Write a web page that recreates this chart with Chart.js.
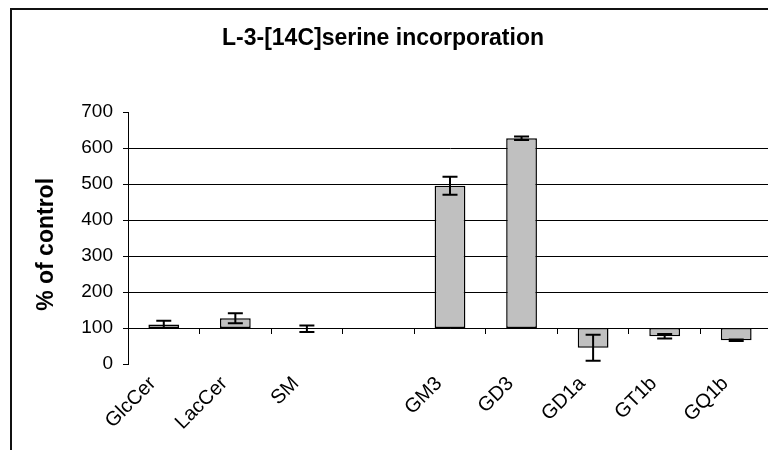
<!DOCTYPE html>
<html>
<head>
<meta charset="utf-8">
<script src="https://cdn.jsdelivr.net/npm/chart.js@4/dist/chart.umd.min.js"></script>
<style>
  html, body { margin: 0; padding: 0; background: #fff; overflow: hidden; width: 768px; height: 450px; }
  #frame { position: absolute; left: 10px; top: 8px; width: 800px; height: 500px; border-top: 2px solid #111; border-left: 2px solid #111; }
  #wrap { position: absolute; left: -6px; top: 0; width: 778px; height: 450px; }
</style>
</head>
<body>
<div id="frame"></div>
<div id="wrap"><canvas id="c" width="778" height="450"></canvas></div>
<script>
const categories = ['GlcCer', 'LacCer', 'SM', '', 'GM3', 'GD3', 'GD1a', 'GT1b', 'GQ1b'];
const values = [110, 127, 98, null, 495, 627, 45, 77, 66];
const errors = [10, 14, 9, null, 25, 5, 36, 6, 2];
const baseline = 100;
const yMin = 0, yMax = 700, yStep = 100;
const chartTitle = 'L-3-[14C]serine incorporation';
const yTitle = '% of control';

const barData = values.map(v => v == null ? null : [baseline, v]);

const errorBars = {
  id: 'errorBars',
  afterDatasetsDraw(chart) {
    const meta = chart.getDatasetMeta(0);
    const y = chart.scales.y;
    const ctx = chart.ctx;
    ctx.save();
    ctx.strokeStyle = '#000';
    ctx.lineWidth = 2;
    values.forEach((v, i) => {
      if (v == null || errors[i] == null) return;
      const el = meta.data[i];
      if (!el) return;
      const x = el.x;
      const yt = y.getPixelForValue(v + errors[i]);
      const yb = y.getPixelForValue(v - errors[i]);
      const hw = 7.5;
      ctx.beginPath();
      ctx.moveTo(x, yt); ctx.lineTo(x, yb);
      ctx.moveTo(x - hw, yt); ctx.lineTo(x + hw, yt);
      ctx.moveTo(x - hw, yb); ctx.lineTo(x + hw, yb);
      ctx.stroke();
    });
    ctx.restore();
  }
};

new Chart(document.getElementById('c'), {
  type: 'bar',
  data: {
    labels: categories,
    datasets: [{
      data: barData,
      backgroundColor: '#C0C0C0',
      borderColor: '#000',
      borderWidth: 1.5,
      borderSkipped: false,
      categoryPercentage: 1,
      barPercentage: 0.43
    }]
  },
  options: {
    responsive: false,
    devicePixelRatio: 1,
    animation: false,
    layout: { padding: 0 },
    plugins: {
      legend: { display: false },
      tooltip: { enabled: false },
      title: {
        display: true,
        text: chartTitle,
        color: '#000',
        font: { family: "'Liberation Sans', Arial, sans-serif", size: 23, weight: 'bold' },
        padding: { top: 25, bottom: 59.4 }
      }
    },
    scales: {
      x: {
        type: 'category',
        position: 'bottom',
        offset: true,
        grid: { display: false },
        border: { display: false },
        ticks: {
          color: '#000',
          font: { family: "'Liberation Sans', Arial, sans-serif", size: 20 },
          minRotation: 45,
          maxRotation: 45,
          autoSkip: false,
          padding: 0,
          labelOffset: -11
        },
        afterFit(scale) { scale.height = 86; }
      },
      x2: {
        type: 'category',
        position: { y: baseline },
        offset: true,
        grid: {
          display: true,
          offset: true,
          drawOnChartArea: false,
          drawTicks: true,
          tickLength: 5,
          color: '#000',
          lineWidth: 1
        },
        border: { display: true, color: '#000', width: 1 },
        ticks: { display: false }
      },
      y: {
        min: yMin,
        max: yMax,
        ticks: {
          stepSize: yStep,
          color: '#000',
          font: { family: "'Liberation Sans', Arial, sans-serif", size: 19 },
          padding: 10
        },
        grid: {
          color: ctx => (ctx.tick && (ctx.tick.value === yMin || ctx.tick.value === yMax)) ? 'rgba(0,0,0,0)' : '#000',
          tickColor: '#000',
          lineWidth: 1,
          tickLength: 5
        },
        border: { display: true, color: '#000', width: 1 },
        title: {
          display: true,
          text: yTitle + '  ',
          color: '#000',
          font: { family: "'Liberation Sans', Arial, sans-serif", size: 23, weight: 'bold' },
          padding: { top: 39, bottom: 0 }
        },
        afterFit(scale) { scale.width = 134; }
      }
    }
  },
  plugins: [errorBars]
});
</script>
</body>
</html>
